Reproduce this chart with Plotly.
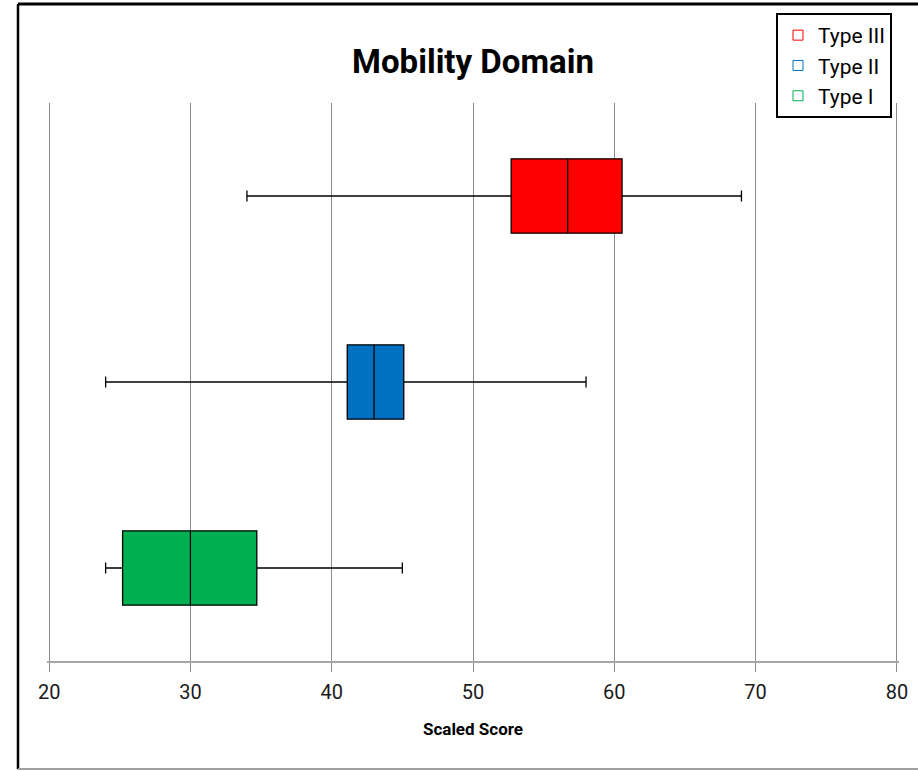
import plotly.graph_objects as go

categories = ["Type I", "Type II", "Type III"]
colors = ["#00B050", "#0070C0", "#FF0000"]
lower_whisker = [24.0, 24.0, 34.0]
q1_values = [25.2, 41.1, 52.7]
median_values = [30.0, 43.0, 56.7]
q3_values = [34.7, 45.1, 60.55]
upper_whisker = [45.0, 58.0, 69.0]
x_ticks = [20, 30, 40, 50, 60, 70, 80]

FONT = "Roboto, sans-serif"
W, H = 918, 771
PL, PR = 47, 899          # plot area pixel edges (range padded slightly so edge gridlines show)
PT, PB = 103, 661
PW, PH = PR - PL, PB - PT

fig = go.Figure()
for i, cat in enumerate(categories):
    fig.add_trace(go.Box(
        y=[cat], orientation="h",
        q1=[q1_values[i]], median=[median_values[i]], q3=[q3_values[i]],
        lowerfence=[lower_whisker[i]], upperfence=[upper_whisker[i]],
        fillcolor=colors[i], line=dict(color="#000000", width=1.3),
        width=0.4, whiskerwidth=0.15, boxpoints=False,
        showlegend=False, hoverinfo="skip",
    ))

# legend entries (hollow squares), Type III first
for i in [2, 1, 0]:
    fig.add_trace(go.Scatter(
        x=[None], y=[None], mode="markers", name=categories[i],
        marker=dict(symbol="square-open", size=10, color=colors[i], line=dict(width=1)),
    ))

fig.update_layout(
    width=W, height=H,
    margin=dict(l=PL, r=W - PR, t=PT, b=H - PB, autoexpand=False),
    paper_bgcolor="white", plot_bgcolor="white",
    title=dict(text="<b>Mobility Domain</b>", x=473 / W, xanchor="center",
               y=1 - 61 / H, yanchor="middle",
               font=dict(family=FONT, size=33, color="black")),
    xaxis=dict(range=[19.85, 80.15], tickvals=x_ticks, ticktext=[str(v) for v in x_ticks],
               showgrid=True, gridcolor="#8C8C8C", gridwidth=1,
               showline=True, linecolor="#A6A6A6", linewidth=2,
               ticks="outside", ticklen=9, tickcolor="#8C8C8C",
               ticklabelstandoff=3,
               tickfont=dict(family=FONT, size=20, color="#1a1a1a"),
               title=dict(text="<b>Scaled Score</b>", standoff=20,
                          font=dict(family=FONT, size=17, color="black")),
               zeroline=False),
    yaxis=dict(type="category", categoryorder="array", categoryarray=categories,
               range=[-0.5, 2.5], showticklabels=False, showgrid=False,
               zeroline=False, showline=False),
    legend=dict(xref="container", yref="container",
                x=776 / W, y=1 - 13 / H, xanchor="left", yanchor="top",
                bgcolor="white", bordercolor="black", borderwidth=2,
                font=dict(family=FONT, size=21, color="black"),
                itemwidth=30, tracegroupgap=0),
    showlegend=True,
)

# outer frame
left = (18 - PL) / PW
right = (930 - PL) / PW
top = 1 + (PT - 4) / PH
bottom = -(769 - PB) / PH
fig.add_shape(type="line", xref="paper", yref="paper", x0=left, x1=right, y0=top, y1=top,
              line=dict(color="black", width=3))
fig.add_shape(type="line", xref="paper", yref="paper", x0=left, x1=left, y0=bottom, y1=top,
              line=dict(color="black", width=2.5))
fig.add_shape(type="line", xref="paper", yref="paper", x0=left, x1=right, y0=bottom, y1=bottom,
              line=dict(color="#A0A0A0", width=2))

fig.write_html("out.html", config={"displayModeBar": False},
               post_script="document.body.style.margin='0';")
